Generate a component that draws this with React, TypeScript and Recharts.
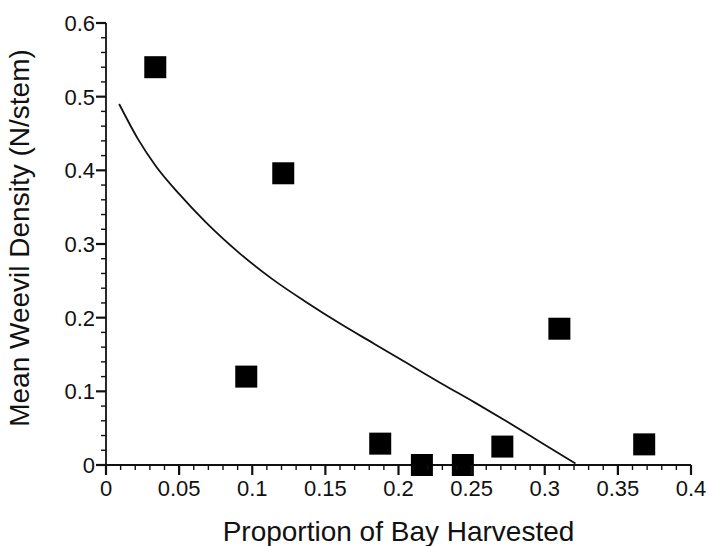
import { ComposedChart, Line, Scatter, XAxis, YAxis } from 'recharts';

// observed plots: proportion harvested vs mean weevil density
const obsX = [0.0337, 0.1212, 0.0959, 0.1875, 0.216, 0.244, 0.271, 0.31, 0.368];
const obsY = [0.54, 0.396, 0.12, 0.029, 0.0, 0.0, 0.025, 0.185, 0.028];

// fitted curve
const fitX = [0.009, 0.022, 0.034, 0.05, 0.068, 0.091, 0.114, 0.137, 0.16, 0.183, 0.206, 0.229, 0.252, 0.275, 0.298, 0.321];
const fitY = [0.49, 0.442, 0.406, 0.368, 0.33, 0.288, 0.252, 0.221, 0.192, 0.165, 0.138, 0.111, 0.085, 0.058, 0.03, 0.002];

const xMajor = [0, 0.05, 0.1, 0.15, 0.2, 0.25, 0.3, 0.35, 0.4];
const xTicks = [
  0, 0.01, 0.02, 0.03, 0.04, 0.05, 0.06, 0.07, 0.08, 0.09, 0.1, 0.11, 0.12, 0.13, 0.14, 0.15, 0.16,
  0.17, 0.18, 0.19, 0.2, 0.21, 0.22, 0.23, 0.24, 0.25, 0.26, 0.27, 0.28, 0.29, 0.3, 0.31, 0.32,
  0.33, 0.34, 0.35, 0.36, 0.37, 0.38, 0.39, 0.4,
];
const yMajor = [0, 0.1, 0.2, 0.3, 0.4, 0.5, 0.6];
const yTicks = [
  0, 0.02, 0.04, 0.06, 0.08, 0.1, 0.12, 0.14, 0.16, 0.18, 0.2, 0.22, 0.24, 0.26, 0.28, 0.3, 0.32,
  0.34, 0.36, 0.38, 0.4, 0.42, 0.44, 0.46, 0.48, 0.5, 0.52, 0.54, 0.56, 0.58, 0.6,
];

const points = obsX.map((x, i) => ({ x, y: obsY[i] }));
const fit = fitX.map((x, i) => ({ x, y: fitY[i] }));

const FONT = '"Liberation Sans", Arial, Helvetica, sans-serif';
const INK = '#111';

const isMajor = (list: number[], v: number) => list.some((m) => Math.abs(m - v) < 1e-9);

function XTick(props: any) {
  const { x, y, payload } = props;
  const major = isMajor(xMajor, payload.value);
  return (
    <g>
      <line x1={x} x2={x} y1={y} y2={y + (major ? 10 : 5)} stroke={INK} strokeWidth={major ? 2.2 : 1.4} />
      {major && (
        <text x={x} y={y + 31} textAnchor="middle" fontSize={22} fontFamily={FONT} fill={INK}>
          {String(payload.value)}
        </text>
      )}
    </g>
  );
}

function YTick(props: any) {
  const { x, y, payload } = props;
  const major = isMajor(yMajor, payload.value);
  return (
    <g>
      <line x1={x} x2={x - (major ? 10 : 5)} y1={y} y2={y} stroke={INK} strokeWidth={major ? 2.2 : 1.4} />
      {major && (
        <text x={x - 11} y={y + 8} textAnchor="end" fontSize={22} fontFamily={FONT} fill={INK}>
          {String(payload.value)}
        </text>
      )}
    </g>
  );
}

function Square(props: any) {
  const { cx, cy } = props;
  return <rect x={cx - 11} y={cy - 11} width={22} height={22} fill="#000" />;
}

export default function App() {
  return (
    <div style={{ position: 'absolute', left: 0, top: 0, background: '#fff' }}>
      <ComposedChart width={709} height={546} margin={{ top: 23, right: 18, left: 0, bottom: 0 }}>
        <XAxis
          type="number"
          dataKey="x"
          domain={[0, 0.4]}
          ticks={xTicks}
          interval={0}
          tick={<XTick />}
          tickLine={false}
          tickSize={0}
          tickMargin={0}
          height={81}
          axisLine={{ stroke: INK, strokeWidth: 1.8 }}
          allowDuplicatedCategory={false}
          label={{
            content: (p: any) => {
              const vb = p.viewBox;
              return (
                <text x={vb.x + vb.width / 2} y={541} textAnchor="middle" fontSize={28} fontFamily={FONT} fill={INK}>
                  Proportion of Bay Harvested
                </text>
              );
            },
          }}
        />
        <YAxis
          type="number"
          dataKey="y"
          domain={[0, 0.6]}
          ticks={yTicks}
          interval={0}
          tick={<YTick />}
          tickLine={false}
          tickSize={0}
          tickMargin={0}
          width={106}
          axisLine={{ stroke: INK, strokeWidth: 1.8 }}
          label={{
            content: (p: any) => {
              const vb = p.viewBox;
              const cy = vb.y + vb.height / 2 - 6;
              return (
                <text
                  x={29}
                  y={cy}
                  transform={`rotate(-90 29 ${cy})`}
                  textAnchor="middle"
                  fontSize={28}
                  fontFamily={FONT}
                  fill={INK}
                >
                  Mean Weevil Density (N/stem)
                </text>
              );
            },
          }}
        />
        <Line
          data={fit}
          dataKey="y"
          type="monotone"
          stroke={INK}
          strokeWidth={1.8}
          dot={false}
          isAnimationActive={false}
        />
        <Scatter data={points} dataKey="y" shape={<Square />} isAnimationActive={false} />
      </ComposedChart>
    </div>
  );
}
